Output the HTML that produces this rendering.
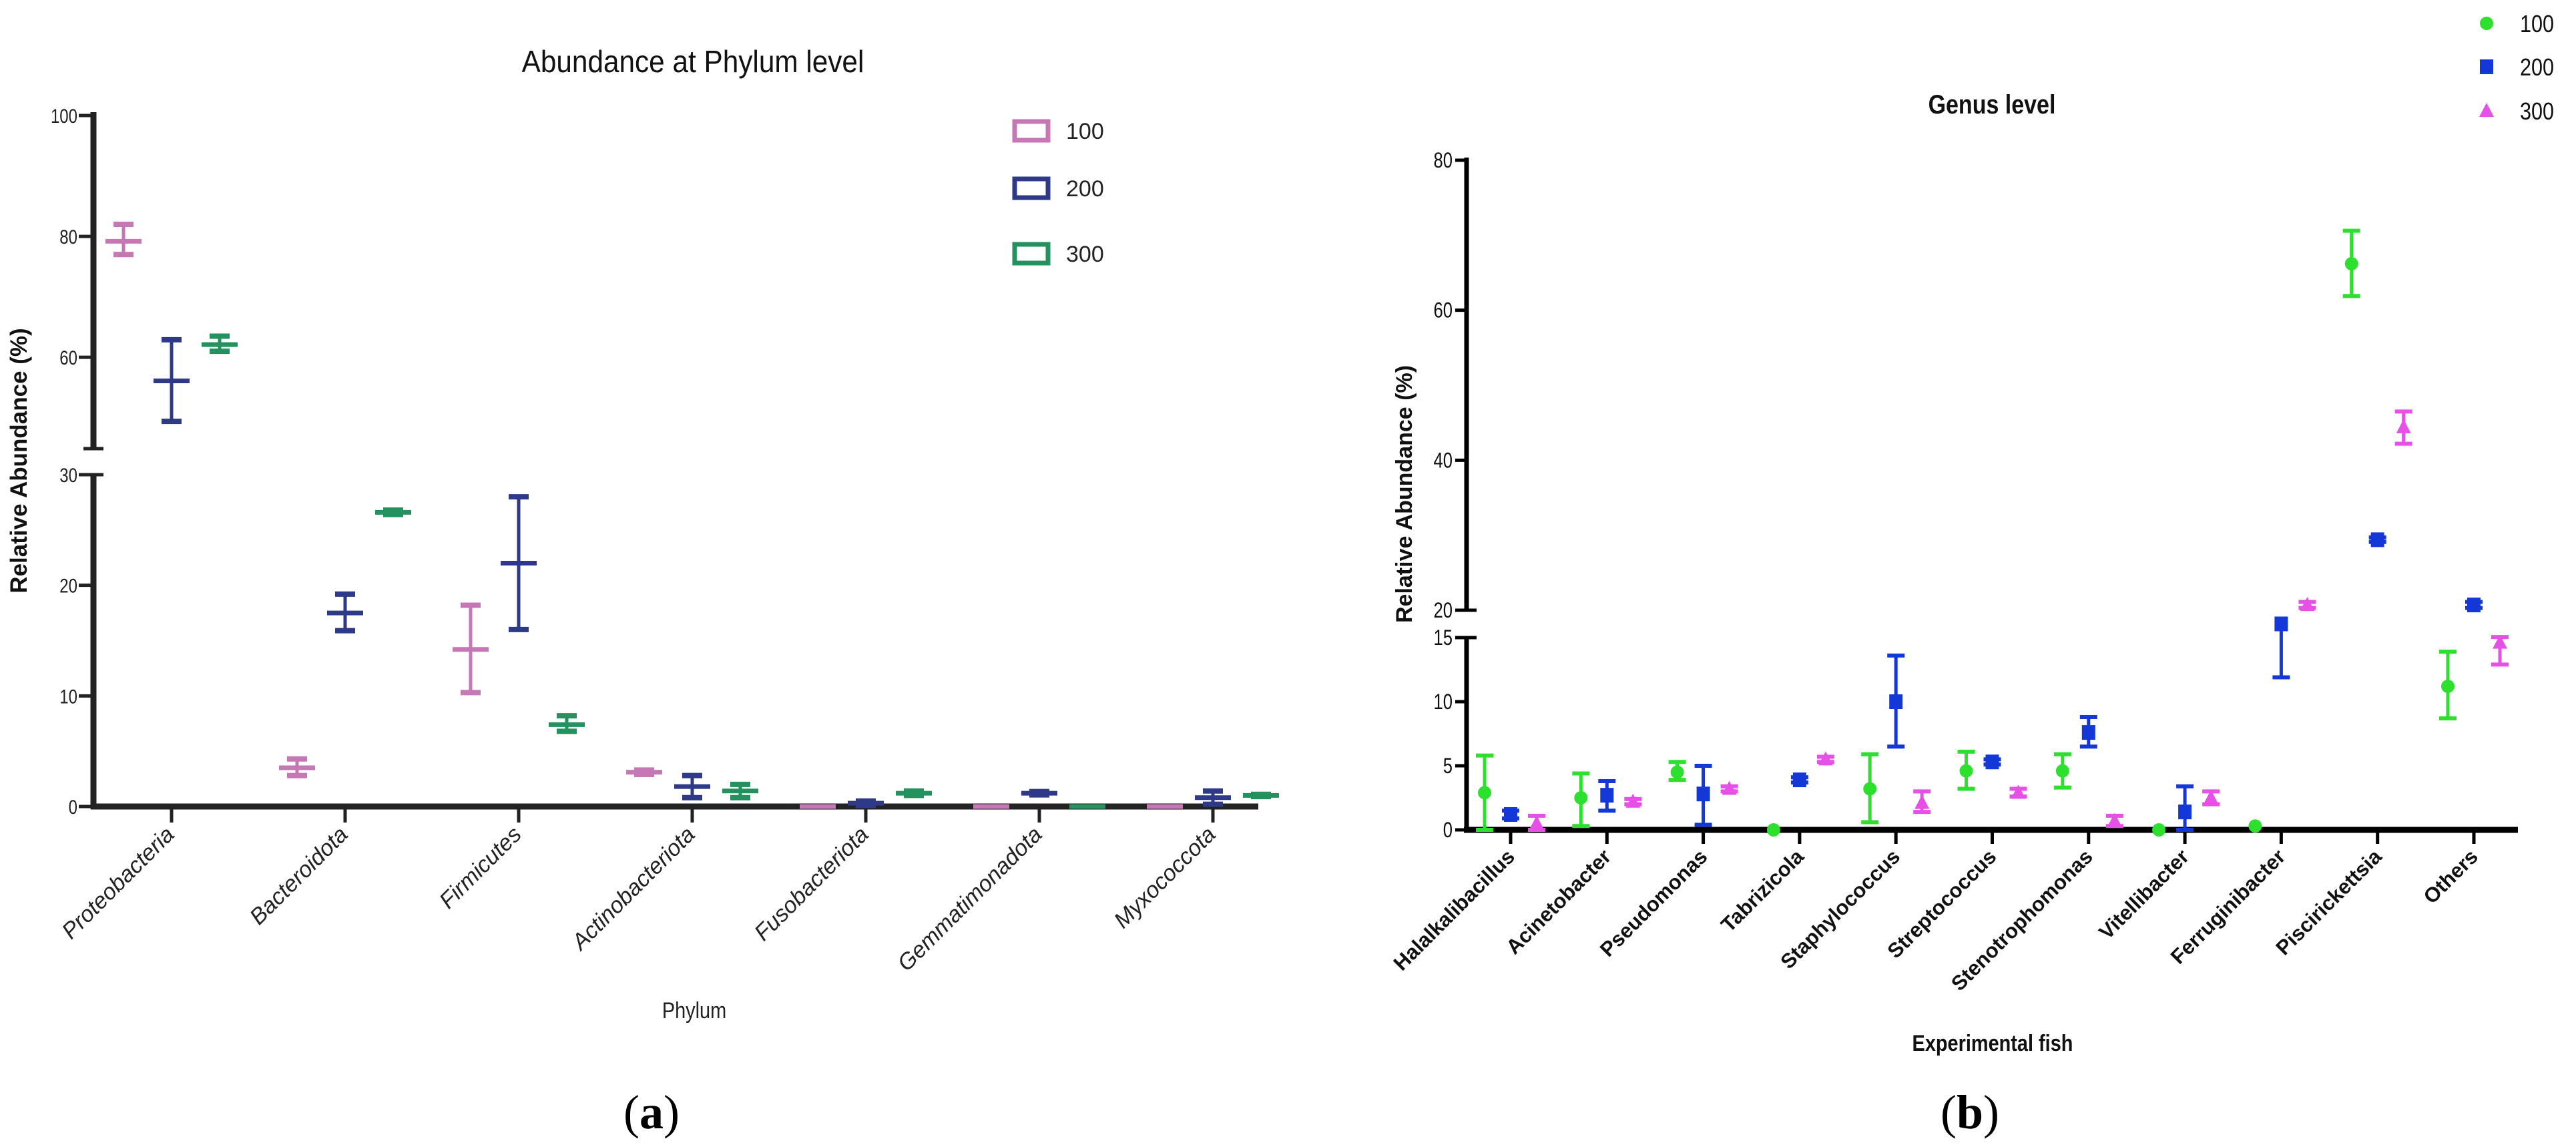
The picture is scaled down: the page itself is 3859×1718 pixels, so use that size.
<!DOCTYPE html>
<html><head><meta charset="utf-8">
<style>
html,body{margin:0;padding:0;background:#fff;}
svg{display:block;}
text{font-family:"Liberation Sans",Arial,sans-serif;}
</style></head>
<body>
<svg id="chart" width="3859" height="1718" viewBox="0 0 3859 1718" xmlns="http://www.w3.org/2000/svg">
<g id="pa"></g>
<g id="pb"></g>
</svg>
<script>
// ---------- Panel (a) data ----------
const phyla = ["Proteobacteria","Bacteroidota","Firmicutes","Actinobacteriota","Fusobacteriota","Gemmatimonadota","Myxococcota"];
const aSeries = ["100","200","300"];
const aMean100 = [79.2, 3.5, 14.2, 3.1, 0, 0, 0];
const aLow100  = [77.0, 2.8, 10.3, 2.9, 0, 0, 0];
const aHigh100 = [82.0, 4.3, 18.2, 3.3, 0, 0, 0];
const aMean200 = [56.1, 17.5, 22.0, 1.8, 0.3, 1.2, 0.8];
const aLow200  = [49.4, 15.9, 16.0, 0.8, 0.1, 1.05, 0.2];
const aHigh200 = [62.9, 19.2, 28.0, 2.8, 0.5, 1.35, 1.4];
const aMean300 = [62.1, 26.6, 7.4, 1.4, 1.2, 0, 1.0];
const aLow300  = [61.0, 26.4, 6.8, 0.8, 1.0, 0, 0.9];
const aHigh300 = [63.5, 26.8, 8.2, 2.0, 1.4, 0, 1.1];
const aTicksTop = [60, 80, 100];
const aTicksBot = [0, 10, 20, 30];

// ---------- Panel (b) data ----------
const genera = ["Halalkalibacillus","Acinetobacter","Pseudomonas","Tabrizicola","Staphylococcus","Streptococcus","Stenotrophomonas","Vitellibacter","Ferruginibacter","Piscirickettsia","Others"];
const bSeries = ["100","200","300"];
const bMean100 = [2.9, 2.5, 4.5, 0, 3.2, 4.6, 4.6, 0, 0.3, 66.2, 11.2];
const bLow100  = [0, 0.3, 3.9, 0, 0.6, 3.2, 3.3, 0, 0.3, 61.9, 8.7];
const bHigh100 = [5.8, 4.4, 5.3, 0, 5.9, 6.1, 5.9, 0, 0.3, 70.6, 13.9];
const bMean200 = [1.2, 2.7, 2.8, 3.9, 10.0, 5.3, 7.6, 1.4, 17.5, 29.4, 20.7];
const bLow200  = [0.9, 1.5, 0.4, 3.7, 6.5, 5.1, 6.5, 0, 11.9, 29.1, 20.3];
const bHigh200 = [1.5, 3.8, 5.0, 4.1, 13.6, 5.5, 8.8, 3.4, 17.5, 29.7, 21.1];
const bMean300 = [0.5, 2.2, 3.2, 5.5, 2.1, 2.9, 0.7, 2.5, 20.7, 44.4, 14.6];
const bLow300  = [0, 2.0, 3.0, 5.3, 1.4, 2.6, 0.3, 2.0, 20.3, 42.2, 12.9];
const bHigh300 = [1.1, 2.4, 3.4, 5.7, 3.0, 3.2, 1.1, 3.0, 21.1, 46.5, 15.1];
const bTicksTop = [20, 40, 60, 80];
const bTicksBot = [0, 5, 10, 15];

const NS = "http://www.w3.org/2000/svg";
function mk(parent, tag, attrs, txt){
  const e = document.createElementNS(NS, tag);
  for (const k in attrs) e.setAttribute(k, attrs[k]);
  if (txt !== undefined) e.textContent = txt;
  parent.appendChild(e);
  return e;
}

// ---------- Panel (a) ----------
(function(){
  const g = document.getElementById('pa');
  const AX = 140, X0 = 257, DX = 260, OFF = 72, XEND = 1885;
  function y(v){
    if (v >= 45) return 671 - (v - 45) * (671 - 173) / 55;
    return 1208 - v * (1208 - 711) / 30;
  }
  function x(i){ return X0 + i * DX; }
  const colors = ["#c678b4", "#2e3a87", "#23925e"];

  let t = mk(g, 'text', {x:1038, y:108, 'font-size':46, 'text-anchor':'middle', fill:'#111', transform:'translate(1038 0) scale(0.92 1) translate(-1038 0)'}, "Abundance at Phylum level");
  
  

  let ax = mk(g, 'line', {x1:AX, y1:168, x2:AX, y2:672, stroke:'#222', 'stroke-width':9});
  
  
  mk(g, 'line', {x1:125, y1:672, x2:155, y2:672, stroke:'#222', 'stroke-width':5});
  let ax2 = mk(g, 'line', {x1:AX, y1:711, x2:AX, y2:1212, stroke:'#222', 'stroke-width':9});
  
  
  mk(g, 'line', {x1:125, y1:711, x2:155, y2:711, stroke:'#222', 'stroke-width':5});
  let xa = mk(g, 'line', {x1:AX-4, y1:1208, x2:XEND, y2:1208, stroke:'#222', 'stroke-width':9});
  
  

  aTicksTop.concat(aTicksBot).forEach(v => {
    const yy = y(v);
    mk(g, 'line', {x1:118, y1:yy, x2:AX, y2:yy, stroke:'#222', 'stroke-width':5});
    const tl = mk(g, 'text', {x:116, y:yy+11, 'font-size':30, 'text-anchor':'end', fill:'#222', transform:`translate(116 0) scale(0.8 1) translate(-116 0)`}, String(v));
    
    
  });

  let yl = mk(g, 'text', {x:0, y:0, 'font-size':35, 'font-weight':'bold', 'text-anchor':'middle', fill:'#111', transform:'translate(40 690) rotate(-90)'}, "Relative Abundance (%)");
  
  

  phyla.forEach((p, i) => {
    const xx = x(i);
    mk(g, 'line', {x1:xx, y1:1208, x2:xx, y2:1232, stroke:'#222', 'stroke-width':5});
    const lab = mk(g, 'text', {x:0, y:0, 'font-size':34, 'font-style':'italic', 'text-anchor':'end', fill:'#222', transform:`translate(${xx+6} ${1252}) rotate(-45)`}, p);
    
    
  });

  const means = [aMean100, aMean200, aMean300], lows = [aLow100, aLow200, aLow300], highs = [aHigh100, aHigh200, aHigh300];
  aSeries.forEach((s, si) => {
    const sg = mk(g, 'g', {});
    
    
    phyla.forEach((p, i) => {
      const xx = x(i) + (si - 1) * OFF;
      const c = colors[si];
      const m = means[si][i], lo = lows[si][i], hi = highs[si][i];
      const eb = mk(sg, 'g', {});
      
      
      if (hi - lo > 0.01) {
        mk(eb, 'line', {x1:xx, y1:y(lo), x2:xx, y2:y(hi), stroke:c, 'stroke-width':5});
        mk(eb, 'line', {x1:xx-15, y1:y(lo), x2:xx+15, y2:y(lo), stroke:c, 'stroke-width':8});
        mk(eb, 'line', {x1:xx-15, y1:y(hi), x2:xx+15, y2:y(hi), stroke:c, 'stroke-width':8});
      }
      mk(eb, 'line', {x1:xx-27, y1:y(m), x2:xx+27, y2:y(m), stroke:c, 'stroke-width':7});
    });
  });

  const ly = [196, 282, 380];
  aSeries.forEach((s, si) => {
    const lg = mk(g, 'g', {});
    
    
    mk(lg, 'rect', {x:1520, y:ly[si]-14, width:50, height:28, fill:'none', stroke:colors[si], 'stroke-width':7});
    mk(lg, 'text', {x:1597, y:ly[si]+12, 'font-size':34, fill:'#222'}, s);
  });

  let xt = mk(g, 'text', {x:1040, y:1525, 'font-size':34, 'text-anchor':'middle', fill:'#222', transform:'translate(1040 0) scale(0.85 1) translate(-1040 0)'}, "Phylum");
  
  
  let pl = mk(g, 'text', {x:976, y:1690, 'font-size':72, 'text-anchor':'middle', fill:'#000', style:'font-family:"Liberation Serif",serif'});
  
  
  pl.innerHTML = '(<tspan font-weight="bold">a</tspan>)';
})();

// ---------- Panel (b) ----------
(function(){
  const g = document.getElementById('pb');
  const AX = 2197, X0 = 2263, DX = 144.3, OFF = 39, XEND = 3772;
  function y(v){
    if (v >= 20) return 914 - (v - 20) * (914 - 240) / 60;
    if (v >= 15) return 955 - (v - 15) * (955 - 914) / 5;
    return 1243 - v * (1243 - 955) / 15;
  }
  function x(i){ return X0 + i * DX; }
  const colors = ["#2ee02e", "#1438d8", "#e650e6"];

  let t = mk(g, 'text', {x:2984, y:170, 'font-size':40, 'font-weight':'bold', 'text-anchor':'middle', fill:'#111', transform:'translate(2984 0) scale(0.85 1) translate(-2984 0)'}, "Genus level");
  
  

  let ax = mk(g, 'line', {x1:AX, y1:236, x2:AX, y2:915, stroke:'#000', 'stroke-width':7});
  
  
  mk(g, 'line', {x1:2180, y1:914, x2:2212, y2:914, stroke:'#000', 'stroke-width':5});
  let ax2 = mk(g, 'line', {x1:AX, y1:954, x2:AX, y2:1247, stroke:'#000', 'stroke-width':7});
  
  
  mk(g, 'line', {x1:2180, y1:955, x2:2212, y2:955, stroke:'#000', 'stroke-width':5});
  let xa = mk(g, 'line', {x1:AX-4, y1:1243, x2:XEND, y2:1243, stroke:'#000', 'stroke-width':9});
  
  

  bTicksTop.concat(bTicksBot).forEach(v => {
    const yy = y(v);
    mk(g, 'line', {x1:2180, y1:yy, x2:AX, y2:yy, stroke:'#000', 'stroke-width':5});
    const tl = mk(g, 'text', {x:2176, y:yy+11, 'font-size':32, 'text-anchor':'end', fill:'#111', transform:`translate(2176 0) scale(0.8 1) translate(-2176 0)`}, String(v));
    
    
  });

  let yl = mk(g, 'text', {x:0, y:0, 'font-size':34, 'font-weight':'bold', 'text-anchor':'middle', fill:'#111', transform:'translate(2115 740) rotate(-90)'}, "Relative Abundance (%)");
  
  

  genera.forEach((p, i) => {
    const xx = x(i);
    mk(g, 'line', {x1:xx, y1:1243, x2:xx, y2:1264, stroke:'#000', 'stroke-width':5});
    const lab = mk(g, 'text', {x:0, y:0, 'font-size':31, 'font-weight':'bold', 'text-anchor':'end', fill:'#111', transform:`translate(${xx+8} ${1285}) rotate(-45)`}, p);
    
    
  });

  function marker(parent, si, xx, yy, c){
    if (si === 0) mk(parent, 'circle', {cx:xx, cy:yy, r:10, fill:c});
    else if (si === 1) mk(parent, 'rect', {x:xx-10, y:yy-11, width:20, height:22, fill:c});
    else mk(parent, 'polygon', {points:`${xx},${yy-12} ${xx-11},${yy+9} ${xx+11},${yy+9}`, fill:c});
  }

  const means = [bMean100, bMean200, bMean300], lows = [bLow100, bLow200, bLow300], highs = [bHigh100, bHigh200, bHigh300];
  bSeries.forEach((s, si) => {
    const sg = mk(g, 'g', {});
    
    
    genera.forEach((p, i) => {
      const xx = x(i) + (si - 1) * OFF;
      const c = colors[si];
      const m = means[si][i], lo = lows[si][i], hi = highs[si][i];
      const eb = mk(sg, 'g', {});
      
      
      if (hi - lo > 0.01) {
        mk(eb, 'line', {x1:xx, y1:y(lo), x2:xx, y2:y(hi), stroke:c, 'stroke-width':5});
        mk(eb, 'line', {x1:xx-13, y1:y(lo), x2:xx+13, y2:y(lo), stroke:c, 'stroke-width':6});
        if (hi > m + 0.01) mk(eb, 'line', {x1:xx-13, y1:y(hi), x2:xx+13, y2:y(hi), stroke:c, 'stroke-width':6});
      }
      marker(eb, si, xx, y(m), c);
    });
  });

  const ly = [35, 100, 166];
  bSeries.forEach((s, si) => {
    const lg = mk(g, 'g', {});
    
    
    marker(lg, si, 3725, ly[si], colors[si]);
    mk(lg, 'text', {x:3775, y:ly[si]+13, 'font-size':36, fill:'#111', transform:'translate(3775 0) scale(0.85 1) translate(-3775 0)'}, s);
  });

  let xt = mk(g, 'text', {x:2985, y:1574, 'font-size':34, 'font-weight':'bold', 'text-anchor':'middle', fill:'#111', transform:'translate(2985 0) scale(0.85 1) translate(-2985 0)'}, "Experimental fish");
  
  
  let pl = mk(g, 'text', {x:2951, y:1690, 'font-size':72, 'text-anchor':'middle', fill:'#000', style:'font-family:"Liberation Serif",serif'});
  
  
  pl.innerHTML = '(<tspan font-weight="bold">b</tspan>)';
})();
</script>
</body></html>
